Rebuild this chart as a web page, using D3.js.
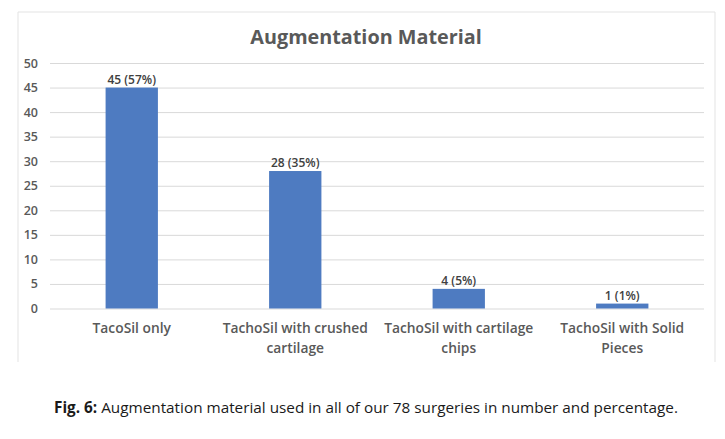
<html>
<head>
  <title>Augmentation Material</title>
  <script src="https://d3js.org/d3.v7.min.js"></script>
  <style>
    body { margin: 0; background: #fff; }
    text { font-family: "Open Sans", sans-serif; }
  </style>
</head>
<body>
  <svg id="screen"></svg>
  <script>
    // chart values
    const categories = [
      ["TacoSil only"],
      ["TachoSil with crushed", "cartilage"],
      ["TachoSil with cartilage", "chips"],
      ["TachoSil with Solid", "Pieces"]
    ]
    const counts = [45, 28, 4, 1]
    const percents = [57, 35, 5, 1]
    const yTicks = [0, 5, 10, 15, 20, 25, 30, 35, 40, 45, 50]

    let svg = {width: 725, height: 439}
    let margin = {top: 63, bottom: 131, left: 50, right: 21}

    let frame = d3.select('#screen')
      .attr("width", svg.width)
      .attr("height", svg.height)

    // chart area border (top, left, right only — bottom is cropped)
    frame.append("path")
      .attr("d", "M18,362 V12 H715 V362")
      .attr("fill", "none")
      .attr("stroke", "#e3e3e3")
      .attr("stroke-width", 1)

    let x = d3.scaleBand()
      .domain(d3.range(counts.length))
      .range([margin.left, svg.width - margin.right])
      .paddingInner(0.68)
      .paddingOuter(0.34)

    let y = d3.scaleLinear()
      .domain([0, 50])
      .range([svg.height - margin.bottom + 0.5, margin.top])

    // gridlines + y tick labels
    let yAxis = frame.append("g")
      .attr("transform", `translate(${margin.left},0)`)
      .call(d3.axisLeft(y).tickValues(yTicks)
        .tickSize(-(svg.width - margin.left - margin.right))
        .tickPadding(12))
    yAxis.select(".domain").remove()
    yAxis.selectAll(".tick line").attr("stroke", "#d9d9d9")
    yAxis.selectAll(".tick text")
      .attr("fill", "#595959")
      .attr("font-size", "12.5px")
      .attr("font-weight", "600")
      .attr("font-family", "'Open Sans', sans-serif")

    // bars
    frame.append("g").selectAll("rect")
      .data(counts)
      .enter()
      .append("rect")
      .attr("x", (d, i) => x(i))
      .attr("width", x.bandwidth())
      .attr("y", d => y(d))
      .attr("height", d => y(0) - y(d))
      .attr("fill", "#4e7bc1")

    // data labels
    frame.append("g").selectAll("text")
      .data(counts)
      .enter()
      .append("text")
      .attr("x", (d, i) => x(i) + x.bandwidth() / 2)
      .attr("y", d => y(d) - 4)
      .attr("text-anchor", "middle")
      .attr("font-size", "12px")
      .attr("font-weight", "600")
      .attr("fill", "#404040")
      .text((d, i) => `${d} (${percents[i]}%)`)

    // category labels
    let cat = frame.append("g").selectAll("text")
      .data(categories)
      .enter()
      .append("text")
      .attr("text-anchor", "middle")
      .attr("font-size", "13.8px")
      .attr("font-weight", "600")
      .attr("fill", "#595959")
    cat.selectAll("tspan")
      .data((d, i) => d.map(s => ({s: s, i: i})))
      .enter()
      .append("tspan")
      .attr("x", d => x(d.i) + x.bandwidth() / 2)
      .attr("y", (d, j) => 333 + j * 20)
      .text(d => d.s)

    // title
    frame.append("text")
      .attr("x", 366)
      .attr("y", 44)
      .attr("text-anchor", "middle")
      .attr("font-size", "19.8px")
      .attr("font-weight", "bold")
      .attr("fill", "#595959")
      .text("Augmentation Material")

    // caption
    let cap = frame.append("text")
      .attr("x", 366)
      .attr("y", 413)
      .attr("text-anchor", "middle")
      .attr("font-size", "15.3px")
      .attr("fill", "#1a1a1a")
    cap.append("tspan").attr("font-weight", "bold").text("Fig. 6:")
    cap.append("tspan").text(" Augmentation material used in all of our 78 surgeries in number and percentage.")
  </script>
</body>
</html>
